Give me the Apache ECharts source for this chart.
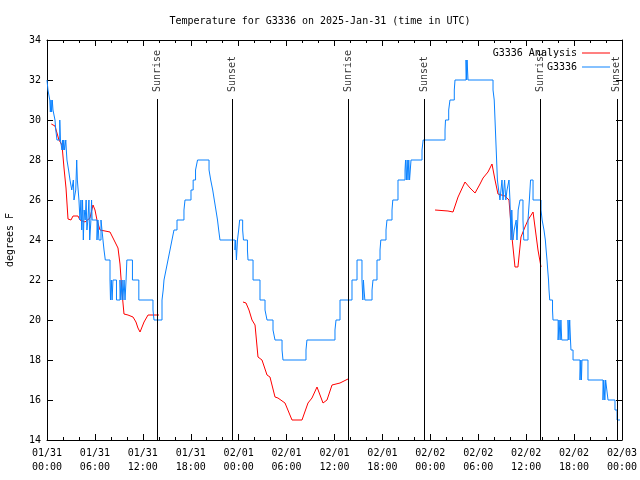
<!DOCTYPE html>
<html><head><meta charset="utf-8">
<script src="https://cdn.jsdelivr.net/npm/echarts@6/dist/echarts.min.js"></script>
<style>html,body{margin:0;padding:0;background:#fff}#c{width:640px;height:480px}</style>
</head><body><div id="c"></div>
<script>
const chartTitle = 'Temperature for G3336 on 2025-Jan-31 (time in UTC)';
const xTickLabels = ['01/31\n00:00','01/31\n06:00','01/31\n12:00','01/31\n18:00','02/01\n00:00','02/01\n06:00','02/01\n12:00','02/01\n18:00','02/02\n00:00','02/02\n06:00','02/02\n12:00','02/02\n18:00','02/03\n00:00'];
const sunEvents = ['Sunrise','Sunset','Sunrise','Sunset','Sunrise','Sunset'];
const sunHours = [13.8, 23.2, 37.73, 47.25, 61.77, 71.35];

// hours since 01/31 00:00 UTC, deg F (value holds until next reading)
const stationObs = [
[0,32],[0.12,31.5],[0.21,31.3],[0.35,31],[0.42,30.4],[0.5,31],[0.58,30.4],[0.66,31],[0.75,30.5],[0.9,30.2],[1.0,30],[1.1,29.5],[1.25,29],[1.6,30],[1.68,29],[1.88,28.5],[1.95,29],[2.02,28.5],[2.1,29],[2.2,28.5],[2.35,29],[2.42,28.5],[2.5,28],[2.7,27.5],[2.88,27],[3.1,26.5],[3.3,27],[3.38,26],[3.6,26.5],[3.72,28],[3.8,27],[3.9,26.5],[4.0,26],
[4.13,25],[4.25,26],[4.35,24.5],[4.45,26],[4.55,24],[4.65,25.5],[4.78,25],[4.9,26],[5.0,24.5],[5.12,25],[5.25,26],[5.35,24],[5.5,25],[5.58,26],[5.65,25],[6.26,24],[6.38,25],[6.5,24],[6.76,25],[7.01,24],[7.14,23.5],[7.3,23],
[7.89,22],[7.95,21],[8.05,22],[8.15,21],[8.26,22],[8.7,21],[9.14,22],[9.25,21],[9.4,22],[9.5,21],[9.65,22],[9.77,21],[9.9,22],[10.0,23],[10.7,22],[11.5,21],[13.27,20.5],[13.4,20],
[14.4,21],[14.55,21.5],[14.65,22],[14.9,22.5],[15.15,23],[15.4,23.5],[15.65,24],[15.9,24.5],[16.28,25],[17.15,25.5],[17.28,26],[18.03,26.5],[18.3,27],[18.6,27.5],[18.85,28],
[20.29,27.5],[20.5,27],[20.75,26.5],[20.95,26],[21.15,25.5],[21.35,25],[21.5,24.5],[21.66,24],[23.54,23.5],[23.62,24],[23.72,23],[23.85,24],[24.0,24.5],[24.12,25],[24.5,24.5],[24.6,24],[25.1,23.5],[25.17,23],[25.8,22],[26.67,21],[27.3,20.5],[27.55,20],[28.3,19.5],[28.55,19],[29.43,18.5],[29.55,18],[32.43,18.5],[32.55,19],[36.06,19.5],[36.19,20],[36.69,21],[38.19,22],[38.82,23],
[39.44,22],[39.55,21],[39.62,22],[39.7,21.5],[39.8,21],[40.7,21.5],[40.82,22],[41.32,23],[41.7,23.5],[41.8,24],[42.45,24.5],[42.57,25],[43.2,25.5],[43.3,26],[43.95,27],[44.83,27.5],[44.9,28],[45.0,27],[45.1,28],[45.2,27],[45.3,28],[45.4,27],[45.58,28],[46.96,28.5],[47.1,29],
[49.84,29.5],[49.9,30],[50.3,30.5],[50.46,31],[51.0,31.5],[51.09,32],[52.47,33],[52.55,32],[52.6,33],[52.72,32],[55.85,31.5],[56.0,31],[56.1,30],[56.2,29],[56.3,28],[56.4,27],[56.55,26.5],[56.72,26],
[56.97,27],[57.1,26],[57.3,27],[57.45,26],[57.6,26.5],[57.85,27],[57.97,26],[58.1,24],[58.2,25.5],[58.35,24],[58.5,24.5],[58.75,25],[58.85,24],[59.0,25.5],[59.23,26],[59.6,25],[59.7,24],[60.23,25],[60.4,26],[60.55,27],[60.86,26],
[61.86,25.5],[62.0,25],[62.23,24.5],[62.4,24],[62.5,23.5],[62.61,23],[62.7,22.5],[62.8,22],[62.86,21.5],[62.95,21],[63.3,20.5],[63.36,20],[64.0,19],[64.12,20],[64.25,19],[64.35,20],[64.45,19],[65.24,20],[65.35,19],[65.45,20],[65.55,19],[65.61,18.5],[65.87,18],[66.74,17],[66.85,18],[66.92,17],[66.99,18],[67.74,17],[69.62,16],[69.72,17],[69.85,16],[69.95,17],[70.1,16.5],[70.25,16],[71.12,15.5],[71.38,15],[71.75,15]
];

// hours, deg F ('-' = gap in analysis)
const analysisObs = [
[0.54,29.8],[1.0,29.7],[1.5,29.0],[1.88,28.75],[2.13,27.6],[2.38,26.6],[2.63,25.05],[3.0,25.0],[3.26,25.2],[3.88,25.2],[4.13,25.0],[4.76,24.9],[5.38,25.1],[5.76,25.75],[6.01,25.5],[6.26,25.0],[6.64,24.5],[7.89,24.4],[8.14,24.3],[8.64,23.8],[8.89,23.6],[9.14,22.8],[9.39,21.4],[9.64,20.3],[10.14,20.25],[10.77,20.15],[11.14,19.9],[11.39,19.6],[11.65,19.4],[12.15,19.9],[12.65,20.25],[14.02,20.25],[14.5,'-'],
[24.54,20.9],[24.92,20.85],[25.29,20.5],[25.67,20.0],[26.05,19.75],[26.42,18.15],[26.92,18.0],[27.55,17.25],[27.92,17.15],[28.55,16.15],[28.92,16.1],[29.8,15.85],[30.68,15.0],[31.93,15.0],[32.68,15.85],[33.18,16.1],[33.81,16.65],[34.56,15.85],[35.06,16.0],[35.69,16.75],[36.69,16.85],[37.69,17.05],[38.5,'-'],
[48.59,25.5],[50.21,25.45],[50.84,25.4],[51.47,26.15],[52.34,26.9],[52.97,26.6],[53.6,26.35],[54.22,26.8],[54.6,27.1],[55.22,27.4],[55.72,27.8],[56.1,27.0],[56.47,26.3],[57.35,26.2],[57.85,26.0],[58.22,24.15],[58.6,22.65],[58.97,22.65],[59.35,24.15],[59.85,24.65],[60.23,25.0],[60.86,25.4],[61.1,25.4],[61.48,23.5],[61.86,22.65]
];

const FONT = 'DejaVu Sans Mono';
const lineTop = 31.05, labelBase = 31.4, yMin = 14, yMax = 34;

const axisCommonX = {
  type: 'value', min: 0, max: 72, interval: 6,
  axisLine: { show: true, onZero: false, lineStyle: { color: '#000', width: 1 } },
  axisTick: { show: true, inside: true, length: 6, lineStyle: { color: '#000' } },
  minorTick: { show: true, splitNumber: 3, length: 3, lineStyle: { color: '#000' } },
  splitLine: { show: false }
};
const axisCommonY = {
  type: 'value', min: yMin, max: yMax, interval: 2,
  axisLine: { show: true, onZero: false, lineStyle: { color: '#000', width: 1 } },
  axisTick: { show: true, inside: true, length: 6, lineStyle: { color: '#000' } },
  splitLine: { show: false }
};
const legendCommon = { right: 30, align: 'right', icon: 'rect', itemWidth: 28, itemHeight: 1, padding: 0, selectedMode: false,
  textStyle: { fontFamily: FONT, fontSize: 10, color: '#000' } };

const chart = echarts.init(document.getElementById('c'), null, { renderer: 'canvas' });
chart.setOption({
  animation: false,
  backgroundColor: '#fff',
  title: { text: chartTitle, left: 'center', top: 11,
    textStyle: { fontFamily: FONT, fontSize: 10, fontWeight: 'normal', color: '#000' } },
  grid: { left: 47, right: 18, top: 40, bottom: 40, containLabel: false, outerBoundsMode: 'none' },
  legend: [
    Object.assign({}, legendCommon, { data: ['G3336 Analysis'], top: 48 }),
    Object.assign({}, legendCommon, { data: ['G3336'], top: 62 })
  ],
  xAxis: [
    Object.assign({}, axisCommonX, { position: 'bottom',
      axisLabel: { show: true, margin: 6, fontFamily: FONT, fontSize: 10, color: '#000', lineHeight: 14,
        formatter: v => xTickLabels[Math.round(v / 6)] } }),
    Object.assign({}, axisCommonX, { position: 'top', axisLabel: { show: false } })
  ],
  yAxis: [
    Object.assign({}, axisCommonY, { position: 'left', name: 'degrees F', nameLocation: 'middle', nameGap: 32, nameRotate: 90,
      nameTextStyle: { fontFamily: FONT, fontSize: 10, color: '#000' },
      axisLabel: { show: true, margin: 6, fontFamily: FONT, fontSize: 10, color: '#000' } }),
    Object.assign({}, axisCommonY, { position: 'right', axisLabel: { show: false } })
  ],
  series: [
    { name: 'sun', type: 'line', data: [], symbol: 'none', silent: true,
      markLine: { silent: true, symbol: 'none', label: { show: false },
        lineStyle: { color: '#000', width: 1, type: 'solid' },
        data: sunHours.map(h => [{ coord: [h, lineTop] }, { coord: [h, yMin] }]) } },
    { name: 'sunLabels', type: 'scatter', symbolSize: 0, silent: true,
      data: sunHours.map((h, i) => ({ value: [h, labelBase], name: sunEvents[i] })),
      label: { show: true, position: 'inside', formatter: p => p.name, rotate: 90, align: 'left', verticalAlign: 'middle',
        fontFamily: FONT, fontSize: 10, color: '#000' } },
    { name: 'G3336 Analysis', type: 'line', data: analysisObs, symbol: 'none', connectNulls: false, z: 3,
      lineStyle: { color: '#ff0000', width: 1 }, itemStyle: { color: '#ff0000' } },
    { name: 'G3336', type: 'line', step: 'end', data: stationObs, symbol: 'none', z: 4,
      lineStyle: { color: '#0a82ff', width: 1 }, itemStyle: { color: '#0a82ff' } }
  ]
});
</script>
</body></html>
